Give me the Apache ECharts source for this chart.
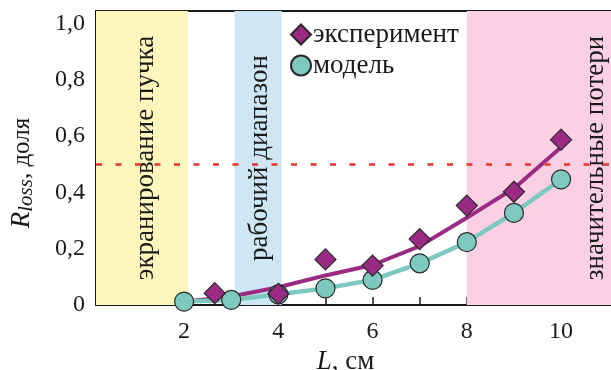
<!DOCTYPE html>
<html>
<head>
<meta charset="utf-8">
<script src="https://cdn.jsdelivr.net/npm/echarts@6/dist/echarts.min.js"></script>
<style>
  html, body { margin: 0; padding: 0; background: #fff; }
  #chart { width: 611px; height: 370px; }
</style>
</head>
<body>
<div id="chart"></div>
<script>
// Beam length L, cm
const modelX = [2, 3, 4, 5, 6, 7, 8, 9, 10];
const modelY = [0.012, 0.018, 0.038, 0.059, 0.089, 0.148, 0.223, 0.327, 0.446];

const expX = [2.65, 4, 5, 6, 7, 8, 9, 10];
const expY = [0.042, 0.040, 0.162, 0.140, 0.234, 0.353, 0.402, 0.587];

// smoothed experimental trend
const trendX = [2, 3, 4, 5, 6, 7, 8, 9, 10];
const trendY = [0.012, 0.030, 0.063, 0.105, 0.142, 0.209, 0.310, 0.414, 0.560];

const xTicks = [1, 2, 3, 4, 5, 6, 7, 8, 9, 10];
const xTickLabels = [2, 4, 6, 8, 10];
const yTicks = [0, 0.1, 0.2, 0.3, 0.4, 0.5, 0.6, 0.7, 0.8, 0.9, 1.0];
const yTickLabels = [0, 0.2, 0.4, 0.6, 0.8, 1.0];

const threshold = 0.5;

// shaded regions: [from, to, label, label x]
const bandNames = ['экранирование пучка', 'рабочий диапазон', 'значительные потери'];
const bandFrom = [0.13, 3.07, 8.0];
const bandTo = [2.08, 4.07, 11.06];
const bandLabelX = [1.18, 3.6, 10.73];
const bandColors = ['#fdf7bd', '#cfe6f5', '#fbd0e3'];

const X_MIN = 0.13, X_MAX = 11.06, Y_MIN = 0, Y_MAX = 1.044;

const serif = '"Liberation Serif", "DejaVu Serif", serif';
const INK = '#1a1a1a';
const PURPLE = '#9a2a84';
const TEAL = '#7dc9bf';

const pair = (xs, ys) => xs.map((x, i) => [x, ys[i]]);

const chart = echarts.init(document.getElementById('chart'), null, { renderer: 'canvas' });

const option = {
  animation: false,
  backgroundColor: '#ffffff',
  textStyle: { fontFamily: serif },
  grid: { left: 96, right: 0, top: 11, bottom: 65, containLabel: false, outerBoundsMode: 'none' },
  legend: {
    left: 290, top: 21, orient: 'vertical', padding: 0,
    itemWidth: 20, itemHeight: 20, itemGap: 4,
    textStyle: { fontFamily: serif, fontSize: 27, color: INK, padding: [0, 0, 0, -3] },
    data: [
      { name: 'эксперимент', icon: 'diamond' },
      { name: 'модель', icon: 'circle' }
    ]
  },
  xAxis: [{
    type: 'value', min: X_MIN, max: X_MAX,
    name: '{i|L}{n|, см}', nameLocation: 'middle', nameGap: 40,
    nameTextStyle: {
      padding: [0, 16, 0, 0],
      rich: {
        i: { fontFamily: serif, fontSize: 27, fontStyle: 'italic', color: INK },
        n: { fontFamily: serif, fontSize: 27, color: INK }
      }
    },
    axisLine: { show: true, onZero: false, lineStyle: { color: INK, width: 2 } },
    axisTick: { show: true, inside: true, length: 8, customValues: xTicks, lineStyle: { color: INK, width: 1.5 } },
    axisLabel: { customValues: xTickLabels, fontFamily: serif, fontSize: 24, color: INK, margin: 15 },
    splitLine: { show: false }
  }, {
    type: 'value', min: X_MIN, max: X_MAX, position: 'top',
    axisLine: { show: true, onZero: false, lineStyle: { color: INK, width: 2 } },
    axisTick: { show: false }, axisLabel: { show: false }, splitLine: { show: false }
  }],
  yAxis: {
    type: 'value', min: Y_MIN, max: Y_MAX,
    name: '{r|R}{s|loss}{n|, доля}', nameLocation: 'middle', nameGap: 59, nameRotate: 90,
    nameTextStyle: {
      padding: [0, 30, 0, 0],
      rich: {
        r: { fontFamily: serif, fontSize: 27, fontStyle: 'italic', color: INK },
        s: { fontFamily: serif, fontSize: 21, fontStyle: 'italic', color: INK, padding: [9, 0, 0, 0] },
        n: { fontFamily: serif, fontSize: 25, color: INK }
      }
    },
    axisLine: { show: true, onZero: false, lineStyle: { color: INK, width: 2 } },
    axisTick: { show: true, inside: true, length: 8, customValues: yTicks, lineStyle: { color: INK, width: 1.5 } },
    axisLabel: {
      customValues: yTickLabels, fontFamily: serif, fontSize: 24, color: INK, margin: 11,
      formatter: v => v === 0 ? '0' : v.toFixed(1).replace('.', ',')
    },
    splitLine: { show: false }
  },
  series: [
    {
      name: 'bands', type: 'line', data: [], silent: true,
      markArea: {
        silent: true,
        data: bandFrom.map((f, i) => [
          { xAxis: f, yAxis: Y_MIN, itemStyle: { color: bandColors[i] } },
          { xAxis: bandTo[i], yAxis: Y_MAX }
        ])
      },
      markLine: {
        silent: true, symbol: 'none', label: { show: false },
        lineStyle: { color: '#e8322a', width: 2.5, type: [6, 13.5] },
        data: [{ yAxis: threshold }]
      },
      z: 1
    },
    {
      name: 'тренд', type: 'line', data: pair(trendX, trendY),
      showSymbol: false, symbol: 'none', smooth: false,
      lineStyle: { color: PURPLE, width: 4 }, z: 3
    },
    {
      name: 'модель', type: 'line', data: pair(modelX, modelY),
      symbol: 'circle', symbolSize: 19, showSymbol: true,
      lineStyle: { color: TEAL, width: 4.5 },
      itemStyle: { color: TEAL, borderColor: '#2a2a2a', borderWidth: 1.2 }, z: 4
    },
    {
      name: 'эксперимент', type: 'scatter', data: pair(expX, expY),
      symbol: 'diamond', symbolSize: 21,
      itemStyle: { color: PURPLE, borderColor: '#2a2a2a', borderWidth: 1.2, opacity: 1 }, z: 5
    }
  ]
};

chart.setOption(option);

// rotated captions centred in each shaded region
const yMid = (Y_MIN + Y_MAX) / 2;
chart.setOption({
  graphic: bandNames.map((t, i) => {
    const p = chart.convertToPixel({ xAxisIndex: 0, yAxisIndex: 0 }, [bandLabelX[i], yMid]);
    return {
      type: 'text', x: p[0], y: p[1], rotation: Math.PI / 2, z: 2, silent: true,
      style: {
        text: t, fontFamily: serif, fontSize: 27, fill: INK,
        align: 'center', verticalAlign: 'middle'
      }
    };
  })
});
</script>
</body>
</html>
